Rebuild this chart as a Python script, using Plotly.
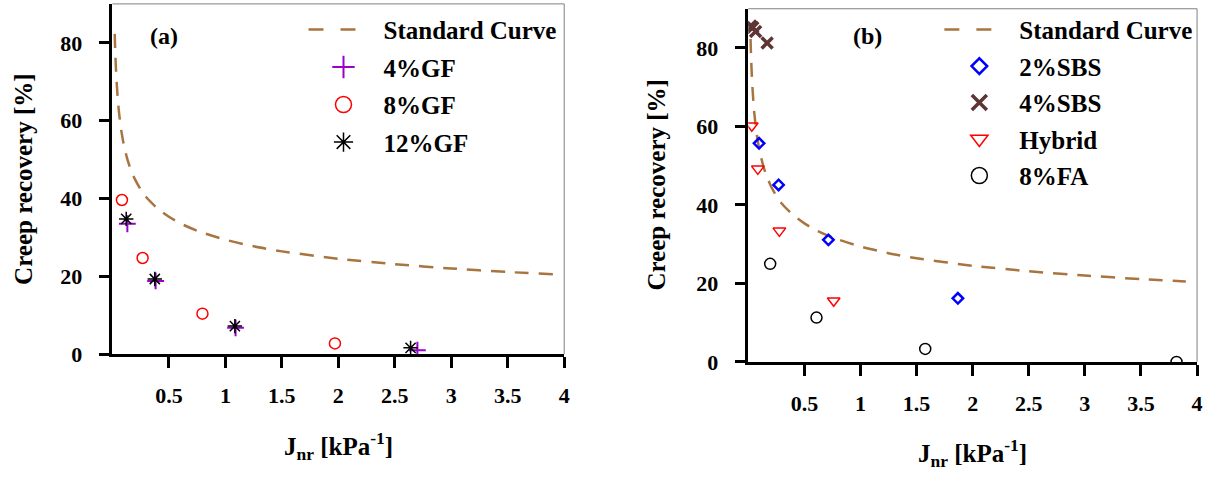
import plotly.graph_objects as go

# ---- data ---------------------------------------------------------------
# MSCR standard curve (recovery vs. non-recoverable creep compliance)
std_jnr = [0.02, 0.025, 0.03, 0.04, 0.05, 0.06, 0.08, 0.1, 0.13, 0.16, 0.2, 0.25,
           0.3, 0.4, 0.5, 0.6, 0.75, 1.0, 1.25, 1.5, 2.0, 2.5, 3.0, 3.5, 3.9]
std_rec = [82.3, 77.6, 73.9, 68.6, 64.6, 61.6, 57.1, 53.9, 50.3, 47.6, 44.9, 42.3,
           40.3, 37.4, 35.3, 33.6, 31.7, 29.4, 27.7, 26.4, 24.5, 23.1, 22.0, 21.1, 20.5]

# panel (a): glass-fibre binders
gf4_jnr = [0.132, 0.382, 1.09, 2.70]
gf4_rec = [33.5, 18.8, 6.75, 1.0]
gf8_jnr = [0.084, 0.267, 0.797, 1.97]
gf8_rec = [39.6, 24.7, 10.4, 2.75]
gf12_jnr = [0.122, 0.375, 1.084, 2.64]
gf12_rec = [34.75, 19.3, 7.2, 1.6]

# panel (b): polymer / hybrid / fly-ash binders
sbs2_jnr = [0.096, 0.27, 0.714, 1.868]
sbs2_rec = [55.7, 45.1, 31.1, 16.2]
sbs4_jnr = [0.022, 0.04, 0.065, 0.168]
sbs4_rec = [85.6, 85.2, 84.2, 81.3]
hyb_jnr = [0.031, 0.085, 0.277, 0.761]
hyb_rec = [60.2, 49.2, 33.4, 15.6]
fa8_jnr = [0.195, 0.608, 1.577, 3.817]
fa8_rec = [25.0, 11.3, 3.3, 0.0]

x_ticks = [0.5, 1, 1.5, 2, 2.5, 3, 3.5, 4]
x_ticktext = ["0.5", "1", "1.5", "2", "2.5", "3", "3.5", "4"]
y_ticks = [0, 20, 40, 60, 80]

# ---- styling ------------------------------------------------------------
W, H = 1217, 478
FONT = "Liberation Serif"
CURVE = "#A8743F"

fig = go.Figure()


def add_series(name, xs, ys, symbol, color, size, lw, xa, ya, legend, lsize):
    # plotted markers
    fig.add_trace(go.Scatter(
        x=xs, y=ys, mode="markers", name=name, showlegend=False,
        xaxis=xa, yaxis=ya,
        marker=dict(symbol=symbol, size=size, color=color,
                    line=dict(color=color, width=lw))))
    # legend entry with a larger symbol
    fig.add_trace(go.Scatter(
        x=[None], y=[None], mode="markers", name=name, legend=legend,
        legendgroup=name, xaxis=xa, yaxis=ya,
        marker=dict(symbol=symbol, size=lsize, color=color,
                    line=dict(color=color, width=lw))))


def add_curve(xa, ya, legend):
    fig.add_trace(go.Scatter(
        x=std_jnr, y=std_rec, mode="lines", showlegend=False,
        xaxis=xa, yaxis=ya,
        line=dict(color=CURVE, width=2.5, dash="14px,10px", shape="spline",
                  smoothing=0.6)))
    # legend sample: two dashes
    fig.add_trace(go.Scatter(
        x=[None], y=[None], mode="lines", name="Standard Curve",
        legend=legend, legendgroup="std", xaxis=xa, yaxis=ya,
        line=dict(color=CURVE, width=2.5, dash="15px,17px,15px,60px")))


# panel (a)
add_curve("x", "y", "legend")
add_series("4%GF", gf4_jnr, gf4_rec, "cross-thin-open", "#9900CC", 12, 2, "x", "y", "legend", 18)
add_series("8%GF", gf8_jnr, gf8_rec, "circle-open", "#FF0000", 11, 1.5, "x", "y", "legend", 18)
add_series("12%GF", gf12_jnr, gf12_rec, "asterisk-open", "#000000", 12, 1.5, "x", "y", "legend", 18)

# panel (b)
add_curve("x2", "y2", "legend2")
add_series("2%SBS", sbs2_jnr, sbs2_rec, "diamond-open", "#0000FF", 8, 2.5, "x2", "y2", "legend2", 12)
add_series("4%SBS", sbs4_jnr, sbs4_rec, "x-thin-open", "#5E3535", 11, 3.5, "x2", "y2", "legend2", 15)
add_series("Hybrid", hyb_jnr, hyb_rec, "triangle-down-open", "#FF0000", 11, 1.5, "x2", "y2", "legend2", 15)
add_series("8%FA", fa8_jnr, fa8_rec, "circle-open", "#000000", 11, 1.5, "x2", "y2", "legend2", 16)

tickfont = dict(family=FONT, size=22, color="black", weight="bold")
xcommon = dict(range=[0, 4], tickvals=x_ticks, ticktext=x_ticktext, showline=True,
               linecolor="black", linewidth=2.5, ticks="outside", ticklen=11,
               tickwidth=2.5, tickcolor="black", showgrid=False, zeroline=False,
               tickfont=tickfont, ticklabelstandoff=9)
ycommon = dict(range=[0, 90], tickvals=y_ticks, showline=True, linecolor="black",
               linewidth=2.5, ticks="outside", ticklen=11, tickwidth=2.5,
               tickcolor="black", showgrid=False, zeroline=False,
               tickfont=tickfont, ticklabelstandoff=12)

legfont = dict(family=FONT, size=25, color="black", weight="bold")

fig.update_layout(
    width=W, height=H, margin=dict(l=0, r=0, t=0, b=0),
    paper_bgcolor="white", plot_bgcolor="white",
    xaxis=dict(domain=[113 / W, 567 / W], anchor="y", **xcommon),
    yaxis=dict(domain=[1 - 364 / H, 1 - 4 / H], anchor="x", **ycommon),
    xaxis2=dict(domain=[752 / W, 1203 / W], anchor="y2", **xcommon),
    yaxis2=dict(domain=[1 - 372 / H, 1 - 9 / H], anchor="x2", **ycommon),
    legend=dict(x=305 / W, y=1 - 7 / H, xanchor="left", yanchor="top",
                font=legfont, bgcolor="rgba(0,0,0,0)", itemwidth=70,
                tracegroupgap=2),
    legend2=dict(x=944 / W, y=1 - 7 / H, xanchor="left", yanchor="top",
                 font=legfont, bgcolor="rgba(0,0,0,0)", itemwidth=70,
                 tracegroupgap=1),
    showlegend=True,
)

# thin grey frame on the top and right of each panel
for xa, ya in (("x", "y"), ("x2", "y2")):
    fig.add_shape(type="line", xref=f"{xa} domain", yref=f"{ya} domain",
                  x0=0, x1=1, y0=1, y1=1, line=dict(color="#808080", width=1))
    fig.add_shape(type="line", xref=f"{xa} domain", yref=f"{ya} domain",
                  x0=1, x1=1, y0=0, y1=1, line=dict(color="#808080", width=1))

titlefont = dict(family=FONT, size=25, color="black", weight="bold")
labelfont = dict(family=FONT, size=24, color="black", weight="bold")
annos = [
    dict(text="(a)", x=165 / W, y=1 - 37 / H, font=labelfont),
    dict(text="(b)", x=872 / W, y=1 - 37 / H, font=labelfont),
    dict(text="Creep recovery [%]", x=24 / W, y=1 - 184 / H, textangle=-90, font=titlefont),
    dict(text="Creep recovery [%]", x=660 / W, y=1 - 190 / H, textangle=-90, font=titlefont),
    dict(text="J<sub>nr</sub> [kPa<sup>-1</sup>]", x=340 / W, y=1 - 458 / H, font=titlefont),
    dict(text="J<sub>nr</sub> [kPa<sup>-1</sup>]", x=977 / W, y=1 - 466 / H, font=titlefont),
]
for a in annos:
    fig.add_annotation(xref="paper", yref="paper", showarrow=False,
                       xanchor="center", yanchor="middle", **a)

fig.write_html("out.html")
